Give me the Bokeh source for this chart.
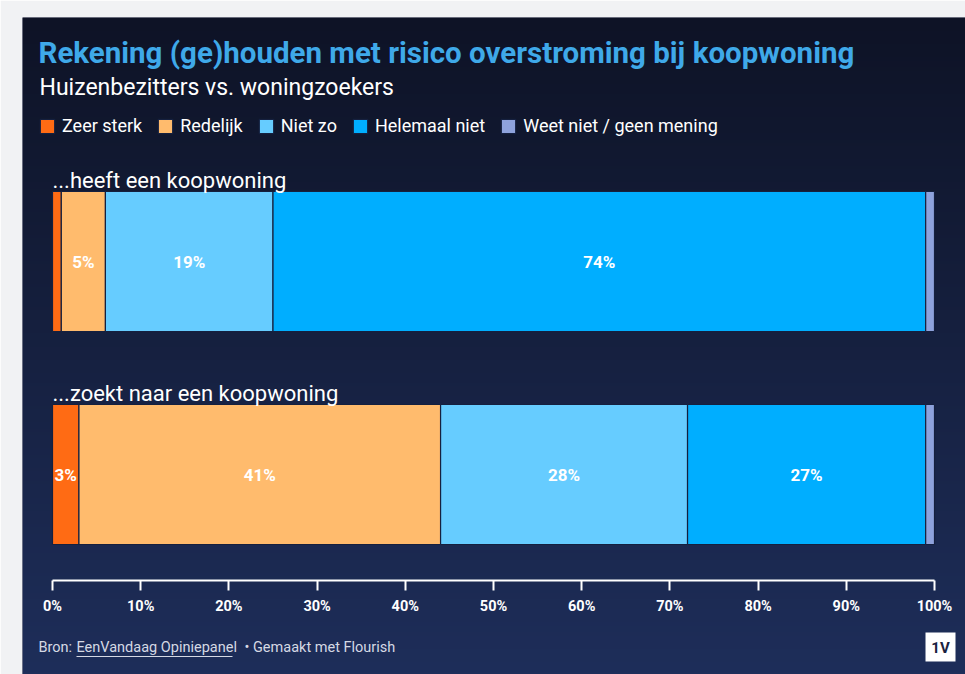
import numpy as np
from bokeh.plotting import figure
from bokeh.models import (ColumnDataSource, Range1d, LinearAxis, FixedTicker,
                          PrintfTickFormatter, Legend)
from bokeh.core.properties import value
from bokeh.embed import file_html
from bokeh.resources import INLINE

# ---------------- data ----------------
categories = ["...heeft een koopwoning", "...zoekt naar een koopwoning"]
series_names = ["Zeer sterk", "Redelijk", "Niet zo", "Helemaal niet", "Weet niet / geen mening"]
zeer_sterk = [1, 3]
redelijk = [5, 41]
niet_zo = [19, 28]
helemaal_niet = [74, 27]
weet_niet = [1, 1]
tick_values = [0, 10, 20, 30, 40, 50, 60, 70, 80, 90, 100]

title = "Rekening (ge)houden met risico overstroming bij koopwoning"
subtitle = "Huizenbezitters vs. woningzoekers"
source_note = ["Bron:", "EenVandaag Opiniepanel", "\u2022 Gemaakt met Flourish"]

colors = ["#ff6b14", "#ffbb6d", "#66ccff", "#00aeff", "#8ea2dc"]

FONT = "Roboto"

# ---------------- layout helpers (pixel -> data) ----------------
PX_PER_PCT = 8.82          # pixels per percent
X0_PAGE = 52               # page x of 0%
ROW_PX = 213.0             # pixels between rows
ROW0_PAGE = 261.0          # page y of first row centre

def dx(page_x):
    return (page_x - X0_PAGE) / PX_PER_PCT

def dy(page_y):
    return (page_y - ROW0_PAGE) / ROW_PX

W, H = 965, 674
x_start, x_end = dx(22), dx(W)
y_top, y_bottom = dy(17), dy(H)

p = figure(width=W, height=H, output_backend="svg", toolbar_location=None,
           x_range=Range1d(x_start, x_end), y_range=Range1d(y_bottom, y_top),
           x_axis_location=None, y_axis_location=None,
           min_border_left=22, min_border_top=17, min_border_right=0, min_border_bottom=0,
           border_fill_color="#f1f2f4", background_fill_color="#161d3a",
           outline_line_color=None)
p.grid.visible = False

# background gradient
top_c = np.array([14, 19, 38])
bot_c = np.array([30, 46, 90])
nrow = 200
t = np.linspace(0, 1, nrow)[:, None]
cols = (top_c[None, :] * (1 - t) + bot_c[None, :] * t).astype(np.uint32)
img = np.empty((nrow, 1), dtype=np.uint32)
img[:, 0] = (255 << 24) | (cols[:, 2] << 16) | (cols[:, 1] << 8) | cols[:, 0]
p.image_rgba(image=[img], x=x_start, y=y_top, dw=x_end - x_start, dh=y_bottom - y_top)

# ---------------- bars ----------------
bar_h = 140 / ROW_PX
src = ColumnDataSource(dict(y=list(range(len(categories))),
                            zs=zeer_sterk, rd=redelijk, nz=niet_zo,
                            hn=helemaal_niet, wn=weet_niet))
renderers = p.hbar_stack(["zs", "rd", "nz", "hn", "wn"], y="y", height=bar_h,
                         color=colors, line_color="#15203f", line_width=1.2,
                         source=src)

# value labels
lx, ly, lt = [], [], []
series = [zeer_sterk, redelijk, niet_zo, helemaal_niet, weet_niet]
for i in range(len(categories)):
    cum = 0
    for s in series:
        v = s[i]
        if v >= 3:
            lx.append(cum + v / 2)
            ly.append(i)
            lt.append(f"{v}%")
        cum += v
p.text(x=lx, y=ly, text=lt, text_align="center", text_baseline="middle",
       text_color="white", text_font=value(FONT), text_font_style="bold",
       text_font_size="17px")

# category labels
p.text(x=[dx(52)] * len(categories),
       y=[i - bar_h / 2 - 11 / ROW_PX for i in range(len(categories))],
       text=categories, text_align="left", text_baseline="middle",
       text_color="white", text_font=value(FONT), text_font_size="22px")

# ---------------- axis ----------------
ax = LinearAxis(fixed_location=dy(580), ticker=FixedTicker(ticks=tick_values),
                formatter=PrintfTickFormatter(format="%d%%"), bounds=(0, 100))
ax.axis_line_color = "white"
ax.axis_line_width = 2
ax.major_tick_line_color = "white"
ax.major_tick_line_width = 2
ax.major_tick_in = 0
ax.major_tick_out = 10
ax.minor_tick_line_color = None
ax.major_label_text_color = "white"
ax.major_label_text_font = FONT
ax.major_label_text_font_style = "bold"
ax.major_label_text_font_size = "14.5px"
ax.major_label_standoff = 7
p.add_layout(ax, "below")

# ---------------- legend ----------------
legend = Legend(items=[(n, [r]) for n, r in zip(series_names, renderers)],
                orientation="horizontal", location=(16, H - 136),
                glyph_width=18, glyph_height=18, label_height=18,
                label_standoff=6, spacing=14, padding=0, margin=0,
                label_text_color="white", label_text_font=FONT,
                label_text_font_size="18px",
                background_fill_alpha=0, border_line_color=None)
p.add_layout(legend, "center")

# ---------------- titles ----------------
p.text(x=[dx(38)], y=[dy(52)], text=[title], text_color="#3fa9e9",
       text_font=value(FONT), text_font_style="bold", text_font_size="29.5px",
       text_align="left", text_baseline="middle")
p.text(x=[dx(39)], y=[dy(87)], text=[subtitle], text_color="white",
       text_font=value(FONT), text_font_size="23px",
       text_align="left", text_baseline="middle")

# ---------------- footer ----------------
p.text(x=[dx(38), dx(76), dx(244)], y=[dy(647)] * 3, text=source_note,
       text_color="#d5d9e4", text_font=value(FONT), text_font_size="14.5px",
       text_align="left", text_baseline="middle")
p.segment(x0=[dx(76)], y0=[dy(656)], x1=[dx(232)], y1=[dy(656)],
          line_color="#d5d9e4", line_width=1)

# logo
p.quad(left=[dx(925)], right=[dx(955)], top=[dy(632)], bottom=[dy(661)],
       fill_color="white", line_color=None)
p.text(x=[dx(940)], y=[dy(647)], text=["1V"], text_align="center",
       text_baseline="middle", text_color="#1a2240", text_font=value(FONT),
       text_font_style="bold", text_font_size="15px")

open("out.html", "w").write(file_html(p, INLINE))
